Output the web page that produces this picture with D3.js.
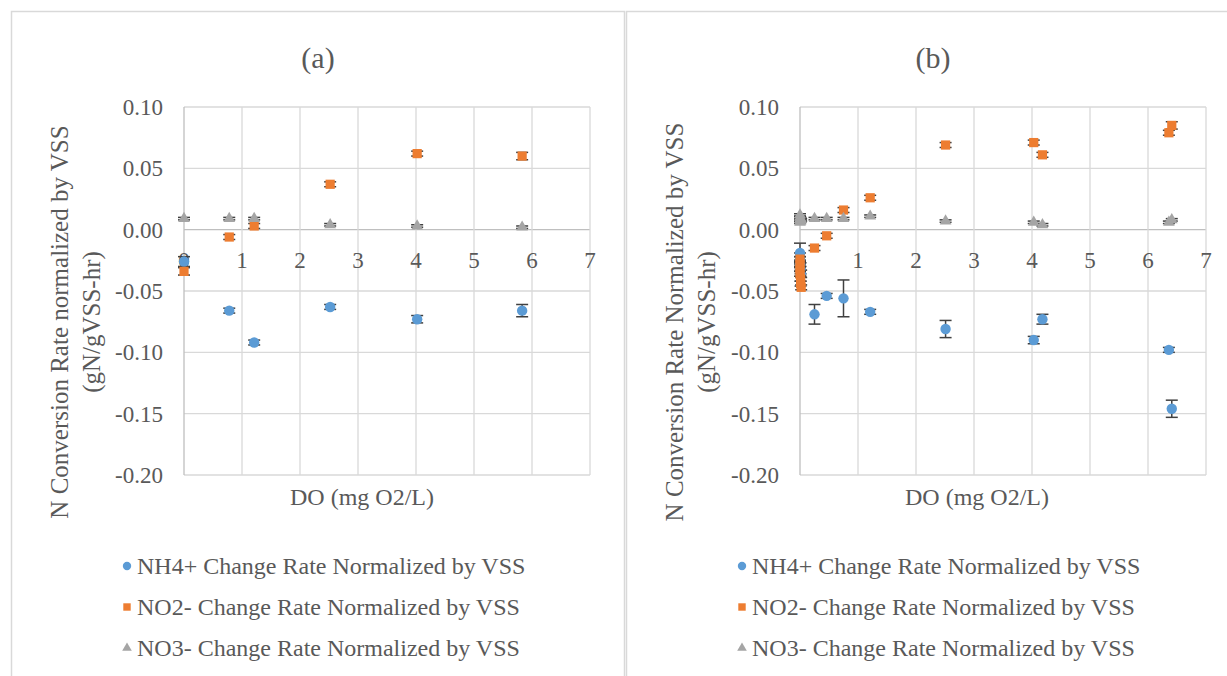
<!DOCTYPE html>
<html>
<head>
<meta charset="utf-8">
<script src="https://cdn.jsdelivr.net/npm/d3@7"></script>
<style>
  body { margin: 0; background: #fff; }
  svg text { font-family: "Liberation Serif", "Times New Roman", serif; fill: #595959; }
</style>
</head>
<body>
<div id="viz"></div>
<script>
// ---- data ----
const xTicks = [0, 1, 2, 3, 4, 5, 6, 7];
const yTicks = [0.10, 0.05, 0.00, -0.05, -0.10, -0.15, -0.20];
const seriesNames = [
  "NH4+ Change Rate Normalized by VSS",
  "NO2- Change Rate Normalized by VSS",
  "NO3- Change Rate Normalized by VSS"
];

// panel (a)
const doA = [0, 0.78, 1.21, 2.52, 4.02, 5.83];
const nh4A = [-0.026, -0.066, -0.092, -0.063, -0.073, -0.066];
const nh4ErrA = [0.004, 0.002, 0.002, 0.002, 0.003, 0.005];
const no2A = [-0.034, -0.006, 0.003, 0.037, 0.062, 0.060];
const no2ErrA = [0.003, 0.002, 0.002, 0.002, 0.002, 0.003];
const no3A = [0.009, 0.009, 0.009, 0.004, 0.003, 0.002];
const no3ErrA = [0.001, 0.001, 0.001, 0.001, 0.001, 0.001];

// panel (b)
const doB = [0, 0, 0, 0, 0.01, 0.01, 0.02, 0.25, 0.46, 0.75, 1.21, 2.51, 4.03, 4.18, 6.36, 6.41];
const nh4B = [-0.019, -0.022, -0.025, -0.028, -0.030, -0.033, -0.036, -0.069, -0.054, -0.056, -0.067, -0.081, -0.090, -0.073, -0.098, -0.146];
const nh4ErrB = [0.008, 0.003, 0.003, 0.003, 0.003, 0.003, 0.003, 0.008, 0.002, 0.015, 0.002, 0.007, 0.003, 0.004, 0.002, 0.007];
const no2B = [-0.024, -0.028, -0.032, -0.036, -0.040, -0.044, -0.047, -0.015, -0.005, 0.016, 0.026, 0.069, 0.071, 0.061, 0.079, 0.085];
const no2ErrB = [0.002, 0.002, 0.002, 0.002, 0.002, 0.002, 0.002, 0.002, 0.002, 0.002, 0.002, 0.002, 0.002, 0.002, 0.002, 0.003];
const no3B = [0.012, 0.010, 0.008, 0.006, 0.007, 0.009, 0.008, 0.009, 0.009, 0.009, 0.011, 0.007, 0.006, 0.004, 0.006, 0.008];
const no3ErrB = [0.001, 0.001, 0.001, 0.001, 0.001, 0.001, 0.001, 0.001, 0.001, 0.001, 0.001, 0.001, 0.001, 0.001, 0.001, 0.001];

const colors = ["#5B9BD5", "#ED7D31", "#A5A5A5"];
const shapes = [d3.symbolCircle, d3.symbolSquare, d3.symbolTriangle];

const width = 1227, height = 676;

const svg = d3.select("#viz")
  .append("svg")
  .attr("width", width)
  .attr("height", height);

const panels = [
  { label: "(a)", left: 11, right: 625, x0: 184, x1: 590, yTitle: "N Conversion Rate normalized by VSS",
    x: doA, series: [[nh4A, nh4ErrA], [no2A, no2ErrA], [no3A, no3ErrA]] },
  { label: "(b)", left: 626, right: 1240, x0: 800, x1: 1206, yTitle: "N Conversion Rate Normalized by VSS",
    x: doB, series: [[nh4B, nh4ErrB], [no2B, no2ErrB], [no3B, no3ErrB]] }
];

panels.forEach(p => drawPanel(p));

function drawPanel(p) {
  const g = svg.append("g");

  // panel frame
  g.append("rect")
    .attr("x", p.left + 0.5)
    .attr("y", 11.5)
    .attr("width", p.right - p.left - 1)
    .attr("height", height)
    .attr("fill", "#fff")
    .attr("stroke", "#d9d9d9")
    .attr("stroke-width", 1.5);

  const x = d3.scaleLinear().domain([0, 7]).range([p.x0, p.x1]);
  const y = d3.scaleLinear().domain([-0.20, 0.10]).range([475, 107]);

  // gridlines
  g.append("g")
    .selectAll("line")
    .data(yTicks)
    .enter().append("line")
    .attr("x1", p.x0).attr("x2", p.x1)
    .attr("y1", d => y(d)).attr("y2", d => y(d))
    .attr("stroke", d => d === 0 ? "#bfbfbf" : "#d9d9d9")
    .attr("stroke-width", 1.3);

  g.append("g")
    .selectAll("line")
    .data(xTicks)
    .enter().append("line")
    .attr("x1", d => x(d)).attr("x2", d => x(d))
    .attr("y1", y(0.10)).attr("y2", y(-0.20))
    .attr("stroke", d => d === 0 ? "#bfbfbf" : "#d9d9d9")
    .attr("stroke-width", 1.3);

  // tick labels
  g.append("g")
    .selectAll("text")
    .data(yTicks)
    .enter().append("text")
    .attr("x", p.x0 - 21)
    .attr("y", d => y(d))
    .attr("dy", "0.35em")
    .attr("text-anchor", "end")
    .attr("font-size", 23)
    .text(d => d.toFixed(2));

  g.append("g")
    .selectAll("text")
    .data(xTicks)
    .enter().append("text")
    .attr("x", d => x(d))
    .attr("y", y(0) + 38)
    .attr("text-anchor", "middle")
    .attr("font-size", 23)
    .text(d => d);

  // titles
  g.append("text")
    .attr("x", p.left + 307)
    .attr("y", 68)
    .attr("text-anchor", "middle")
    .attr("font-size", 30)
    .text(p.label);

  g.append("text")
    .attr("x", p.left + 351)
    .attr("y", 505)
    .attr("text-anchor", "middle")
    .attr("font-size", 24)
    .text("DO (mg O2/L)");

  const yt = g.append("text")
    .attr("transform", `translate(${p.left + 57},322) rotate(-90)`)
    .attr("text-anchor", "middle")
    .attr("font-size", 25);
  yt.append("tspan").attr("x", 0).attr("dy", 0).text(p.yTitle);
  yt.append("tspan").attr("x", 0).attr("dy", 32).text("(gN/gVSS-hr)");

  // series: error bars under markers
  p.series.forEach(([vals, errs], si) => {
    const pts = vals.map((v, i) => ({ x: p.x[i], v: v, e: errs[i] }));
    const sg = g.append("g");

    const eb = sg.selectAll("g.err")
      .data(pts)
      .enter().append("g")
      .attr("stroke", "#404040")
      .attr("stroke-width", 1.5);
    eb.append("line")
      .attr("x1", d => x(d.x)).attr("x2", d => x(d.x))
      .attr("y1", d => y(d.v - d.e)).attr("y2", d => y(d.v + d.e));
    eb.append("line")
      .attr("x1", d => x(d.x) - 6).attr("x2", d => x(d.x) + 6)
      .attr("y1", d => y(d.v - d.e)).attr("y2", d => y(d.v - d.e));
    eb.append("line")
      .attr("x1", d => x(d.x) - 6).attr("x2", d => x(d.x) + 6)
      .attr("y1", d => y(d.v + d.e)).attr("y2", d => y(d.v + d.e));

    sg.selectAll("path")
      .data(pts)
      .enter().append("path")
      .attr("d", d3.symbol().type(shapes[si]).size(si === 2 ? 60 : 85))
      .attr("transform", d => `translate(${x(d.x)},${y(d.v)})`)
      .attr("fill", colors[si]);
  });

  // legend
  const lg = g.append("g");
  seriesNames.forEach((name, i) => {
    const ly = 566 + i * 41;
    lg.append("path")
      .attr("d", d3.symbol().type(shapes[i]).size(i === 2 ? 40 : 55))
      .attr("transform", `translate(${p.left + 116},${ly})`)
      .attr("fill", colors[i]);
    lg.append("text")
      .attr("x", p.left + 126)
      .attr("y", ly)
      .attr("dy", "0.33em")
      .attr("font-size", 24)
      .text(name);
  });
}
</script>
</body>
</html>
